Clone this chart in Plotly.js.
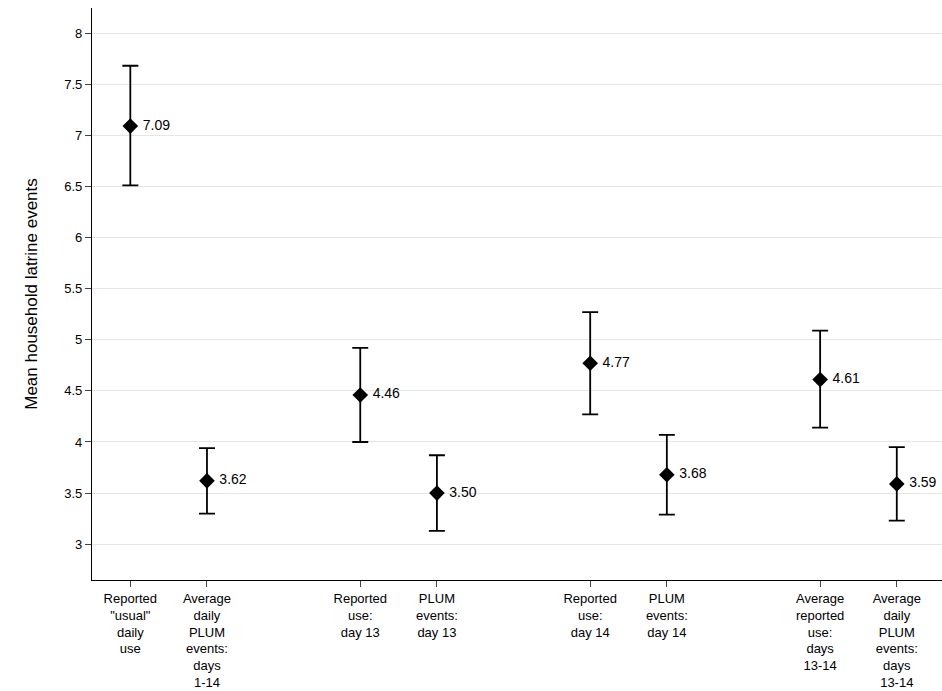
<!DOCTYPE html>
<html><head><script src="https://cdn.plot.ly/plotly-3.0.1.min.js"></script>
<style>body{margin:0}</style></head><body><div id="c" style="width:942px;height:691px"></div>
<script>
const positions=[1,2,4,5,7,8,10,11];
const tickLabels=["Reported<br>\"usual\"<br>daily<br>use","Average<br>daily<br>PLUM<br>events:<br>days<br>1-14","Reported<br>use:<br>day 13","PLUM<br>events:<br>day 13","Reported<br>use:<br>day 14","PLUM<br>events:<br>day 14","Average<br>reported<br>use:<br>days<br>13-14","Average<br>daily<br>PLUM<br>events:<br>days<br>13-14"];
const means=[7.09,3.62,4.46,3.50,4.77,3.68,4.61,3.59];
const lower=[6.51,3.30,4.00,3.13,4.27,3.29,4.14,3.23];
const upper=[7.68,3.94,4.92,3.87,5.27,4.07,5.09,3.95];
const trace={x:positions,y:means,type:'scatter',mode:'markers+text',
 text:means.map(v=>' '+v.toFixed(2)),textposition:'middle right',textfont:{size:14,color:'#000',family:'Liberation Sans'},
 marker:{symbol:'diamond',size:12,color:'#000'},
 error_y:{type:'data',symmetric:false,array:upper.map((u,i)=>u-means[i]),arrayminus:means.map((m,i)=>m-lower[i]),color:'#000',thickness:1.8,width:8},
 cliponaxis:false,showlegend:false};
Plotly.newPlot('c',[trace],{
 width:942,height:691,paper_bgcolor:'#fff',plot_bgcolor:'#fff',
 margin:{l:92,r:0,t:8,b:111},
 font:{family:'Liberation Sans',color:'#000',size:13},
 xaxis:{range:[0.5,11.59],tickvals:positions,ticktext:tickLabels,showgrid:false,zeroline:false,
  showline:true,linecolor:'#000',linewidth:1.2,ticks:'outside',ticklen:6,tickfont:{size:13}},
 yaxis:{range:[2.65,8.245],tickvals:[3,3.5,4,4.5,5,5.5,6,6.5,7,7.5,8],ticktext:['3','3.5','4','4.5','5','5.5','6','6.5','7','7.5','8'],
  showgrid:true,gridcolor:'#e6e6e6',zeroline:false,showline:true,linecolor:'#000',linewidth:1.2,ticks:'outside',ticklen:6,
  tickfont:{size:13},title:{text:'Mean household latrine events',font:{size:17},standoff:22}}
},{displayModeBar:false});
</script></body></html>
